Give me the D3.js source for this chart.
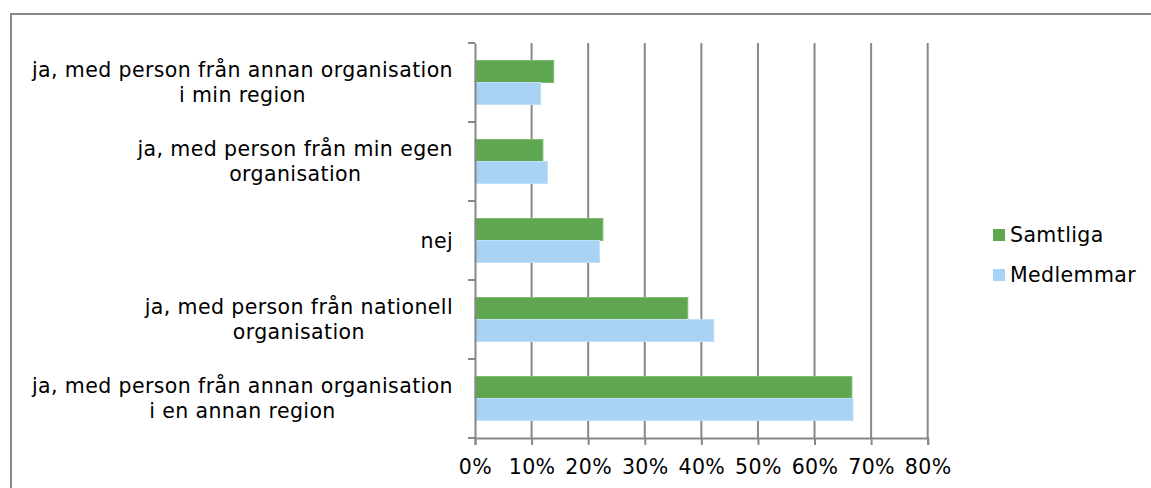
<!DOCTYPE html>
<html>
<head>
<meta charset="utf-8">
<script src="https://cdn.jsdelivr.net/npm/d3@7"></script>
<style>
  body { margin: 0; background: #fff; }
  svg text { font-family: "DejaVu Sans", Verdana, sans-serif; fill: #000; letter-spacing: 0.4px; }
</style>
</head>
<body>
<svg width="1151" height="488"></svg>
<script>
// kategorier (uppifrån och ned), med radbrytningar som i originalet
const kategorier = [
  ['ja, med person från annan organisation', 'i min region'],
  ['ja, med person från min egen', 'organisation'],
  ['nej'],
  ['ja, med person från nationell', 'organisation'],
  ['ja, med person från annan organisation', 'i en annan region']
];
const serier = ['Samtliga', 'Medlemmar'];
const samtliga = [0.139, 0.120, 0.226, 0.376, 0.666];
const medlemmar = [0.116, 0.128, 0.220, 0.422, 0.668];
const xTicks = [0, 0.1, 0.2, 0.3, 0.4, 0.5, 0.6, 0.7, 0.8];
const farger = ['#5ea650', '#a9d3f5'];

const svg = d3.select('svg');
const fontSize = 20.5;

// ram runt diagrammet
svg.append('rect')
  .attr('x', 11).attr('y', 14)
  .attr('width', 1200).attr('height', 600)
  .attr('fill', 'none')
  .attr('stroke', '#898989')
  .attr('stroke-width', 2);

const margin = { left: 475, top: 43 };
const plotW = 927.7 - 475;
const plotH = 438 - 43;

const g = svg.append('g').attr('transform', `translate(${margin.left},${margin.top})`);

const x = d3.scaleLinear().domain([0, 0.8]).range([0, plotW]);
const y = d3.scaleBand().domain(d3.range(kategorier.length)).range([0, plotH]);
const inner = d3.scaleBand().domain(serier).range([0, 44]);
const offs = (y.bandwidth() - 44) / 2;

// stödlinjer
g.selectAll('.grid').data(xTicks.slice(1)).enter().append('line')
  .attr('x1', d => x(d)).attr('x2', d => x(d))
  .attr('y1', 0).attr('y2', plotH)
  .attr('stroke', '#888').attr('stroke-width', 2);

// staplar
const data = [samtliga, medlemmar];
serier.forEach((s, i) => {
  g.selectAll('.bar' + i).data(data[i]).enter().append('rect')
    .attr('x', 0)
    .attr('y', (d, k) => y(k) + offs + inner(s))
    .attr('width', d => x(d))
    .attr('height', inner.bandwidth())
    .attr('fill', farger[i])
    .attr('stroke', i === 0 ? '#7fbb73' : '#c2e0f8')
    .attr('stroke-width', 1);
});

// x-axel
const xAxis = g.append('g')
  .attr('transform', `translate(0,${plotH})`)
  .call(d3.axisBottom(x).tickValues(xTicks).tickFormat(d3.format('.0%')).tickSize(7).tickPadding(14));
xAxis.select('.domain').attr('stroke', '#888').attr('stroke-width', 2);
xAxis.selectAll('.tick line').attr('stroke', '#888').attr('stroke-width', 2);
xAxis.selectAll('text').style('font-size', fontSize + 'px').attr('font-family', null);

// y-axel (endast linje och streck)
const yAxis = g.append('g')
  .call(d3.axisLeft(y).tickValues([]).tickSizeOuter(0));
yAxis.select('.domain').attr('stroke', '#888').attr('stroke-width', 2);
yAxis.selectAll('.bt').data(d3.range(kategorier.length + 1)).enter().append('line')
  .attr('x1', -7).attr('x2', 0)
  .attr('y1', d => d * y.step()).attr('y2', d => d * y.step())
  .attr('stroke', '#888').attr('stroke-width', 2);

// kategorietiketter: blocket högerjusterat, raderna centrerade
const labelRight = 453 - margin.left;
kategorier.forEach((rader, k) => {
  const t = g.append('text')
    .style('font-size', fontSize + 'px')
    .attr('text-anchor', 'middle');
  const spans = rader.map(r => t.append('tspan').text(r));
  const maxW = d3.max(spans, sp => sp.node().getComputedTextLength());
  const cx = labelRight - maxW / 2;
  const cy = y(k) + y.bandwidth() / 2;
  const lh = 25.5;
  spans.forEach((sp, j) => {
    sp.attr('x', cx)
      .attr('y', cy + (j - (rader.length - 1) / 2) * lh)
      .attr('dy', '0.35em');
  });
});

// legend
const legend = svg.append('g').attr('transform', 'translate(993,235)');
serier.forEach((s, i) => {
  const row = legend.append('g').attr('transform', `translate(0,${i * 40})`);
  row.append('rect').attr('x', 0).attr('y', -6).attr('width', 12).attr('height', 12).attr('fill', farger[i]);
  row.append('text').attr('x', 17).attr('dy', '0.35em').style('font-size', fontSize + 'px').text(s);
});
</script>
</body>
</html>
